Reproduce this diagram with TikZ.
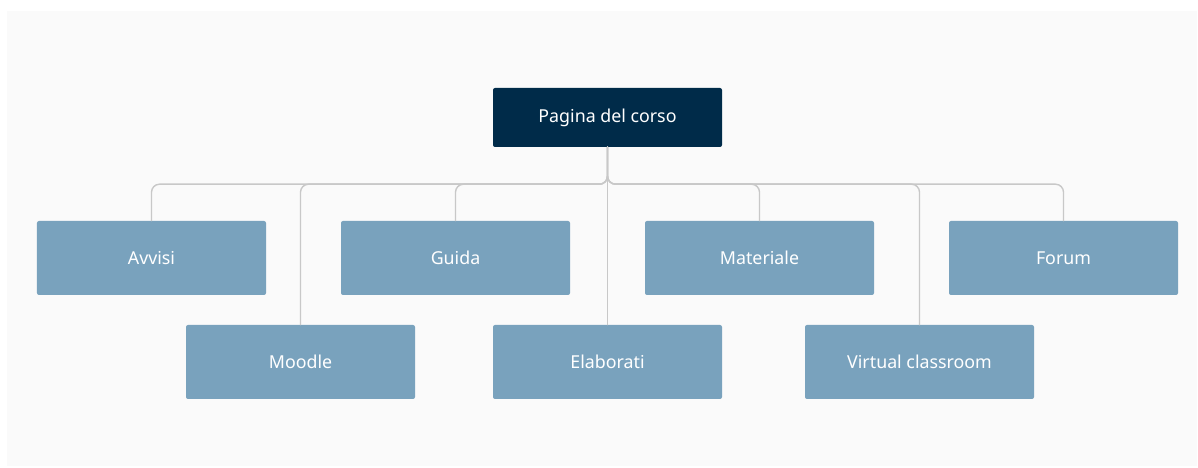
\documentclass[tikz,border=0pt]{standalone}
\usepackage{fontspec}
\setmainfont{Noto Sans}
\definecolor{ChartBack}{RGB}{250,250,250}
\definecolor{ChartNavy}{RGB}{0,43,73}
\definecolor{ChartSteel}{RGB}{121,162,189}
\definecolor{ChartLine}{RGB}{200,200,200}
\begin{document}
\begin{tikzpicture}[x=1bp,y=1bp,line cap=round,line join=round]
  \path[use as bounding box] (0,0) rectangle (1198,468);
  \fill[ChartBack] (7,2) rectangle (1197,457);

  \tikzset{
    rootbox/.style={rounded corners=2bp,fill=ChartNavy,text=white,
      minimum width=229bp,minimum height=59bp,inner sep=0pt,
      font=\fontsize{17.8bp}{17.8bp}\selectfont},
    childbox/.style={rounded corners=2bp,fill=ChartSteel,text=white,
      minimum width=229bp,minimum height=74bp,inner sep=0pt,
      font=\fontsize{17.8bp}{17.8bp}\selectfont},
    conn/.style={draw=ChartLine,line width=1.4bp,rounded corners=8bp},
  }

  % Wurzel
  \node[rootbox] (root) at (607.5,350.5) {Pagina del corso};

  % obere Reihe
  \node[childbox] (avvisi)    at (151.5,210) {Avvisi};
  \node[childbox] (guida)     at (455.5,210) {Guida};
  \node[childbox] (materiale) at (759.5,210) {Materiale};
  \node[childbox] (forum)     at (1063.5,210) {Forum};

  % untere Reihe
  \node[childbox] (moodle)    at (300.5,106) {Moodle};
  \node[childbox] (elaborati) at (607.5,106) {Elaborati};
  \node[childbox] (vclass)    at (919.5,106) {Virtual classroom};

  % Verbindungen
  \foreach \child in {avvisi,moodle,guida,materiale,vclass,forum}
    \draw[conn] (root.south) -- ++(0,-37) -| (\child.north);
  \draw[conn] (root.south) -- (elaborati.north);
\end{tikzpicture}
\end{document}
